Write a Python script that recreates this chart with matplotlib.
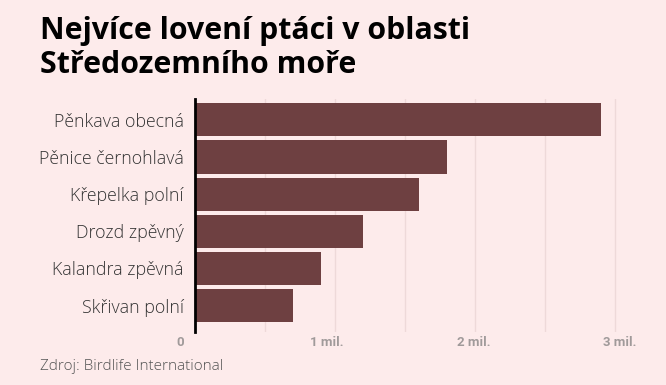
import matplotlib
matplotlib.use("Agg")
import matplotlib.pyplot as plt
import matplotlib.transforms as mtransforms

# data (millions of birds killed)
birds = ["Pěnkava obecná", "Pěnice černohlavá", "Křepelka polní",
         "Drozd zpěvný", "Kalandra zpěvná", "Skřivan polní"]
killed = [2.9, 1.8, 1.6, 1.2, 0.9, 0.7]
tick_text = ["0", "1 mil.", "2 mil.", "3 mil."]

bg = "#fdebeb"
bar_col = "#6e4041"
grid_col = "#eed9d9"

fig = plt.figure(figsize=(6.66, 3.85), dpi=100, facecolor=bg)
ax = fig.add_axes([195 / 666, 1 - 332 / 385, 427 / 666, 233 / 385])
ax.set_facecolor(bg)

y = list(range(len(birds)))
ax.barh(y, killed, height=0.89, color=bar_col, zorder=3)
ax.set_ylim(len(birds) - 1 + 0.71, -0.56)
ax.set_xlim(0, 3.05)

ax.set_yticks(y)
ax.set_yticklabels(birds, fontsize=12.8, color="#333333",
                   fontfamily=["Open Sans", "DejaVu Sans"], fontweight="light")
ax.tick_params(axis="y", length=0, pad=8)

ax.set_xticks([v / 2 for v in range(7)])
ax.set_xticklabels([tick_text[i // 2] if i % 2 == 0 else "" for i in range(7)],
                   fontsize=9.5, color="#a09a9a", fontweight="bold",
                   fontfamily=["Liberation Sans Narrow", "Roboto", "DejaVu Sans"])
ax.tick_params(axis="x", length=0, pad=3)
# the original labels sit a bit left of their gridlines
shifts = [-15, -8, -1, 5]
for lab, s in zip([l for i, l in enumerate(ax.get_xticklabels()) if i % 2 == 0], shifts):
    lab.set_transform(lab.get_transform() + mtransforms.ScaledTranslation(s / 100, 0, fig.dpi_scale_trans))

ax.grid(axis="x", color=grid_col, linewidth=1, zorder=0)
for side in ["top", "right", "bottom"]:
    ax.spines[side].set_visible(False)
ax.spines["left"].set_color("black")
ax.spines["left"].set_linewidth(2)
ax.spines["left"].set_zorder(4)

fig.text(40 / 666, 1 - 48 / 385, "Nejvíce lovení ptáci v oblasti\nStředozemního moře",
         fontsize=21.8, fontweight="bold", color="black", va="center", ha="left",
         linespacing=1.15, fontfamily=["Open Sans", "DejaVu Sans"])
fig.text(40 / 666, 1 - 367 / 385, "Zdroj: Birdlife International",
         fontsize=11, color="#555555", va="center", ha="left", fontweight="light",
         fontfamily=["Open Sans", "DejaVu Sans"])

fig.savefig("out.png", dpi=100, facecolor=bg)
